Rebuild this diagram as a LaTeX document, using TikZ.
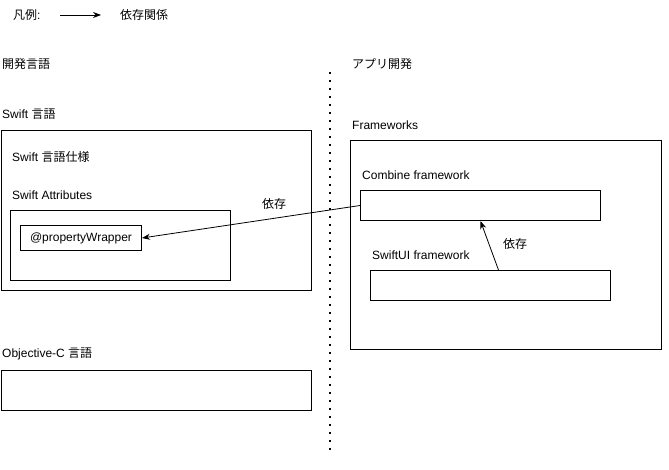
\documentclass[tikz,border=0pt]{standalone}
\usepackage{fontspec}
\setmainfont{Liberation Sans}
\newfontfamily\jp{Noto Sans CJK JP}
\usetikzlibrary{arrows.meta}

\begin{document}
\begin{tikzpicture}[x=1pt,y=-1pt,
    box/.style={draw,line width=1pt,anchor=north west,inner sep=0pt},
    lbl/.style={anchor=west,inner sep=0pt,font=\fontsize{12}{14}\selectfont},
    dep/.style={-{Stealth[length=8pt,width=6pt]},line width=0.8pt}]
  \useasboundingbox (0,0) rectangle (669,469);
  \node[lbl] (leg) at (13,15) {{\jp 凡例}:};
  \coordinate (la) at (60,15);
  \coordinate (lb) at (101,15);
  \draw[dep] (la) -- (lb);
  \node[lbl] (legt) at (120,15) {\jp 依存関係};
  \coordinate (dt) at (330,72);
  \coordinate (db) at (330,452);
  \draw[line width=2pt,dash pattern=on 2pt off 6pt] (dt) -- (db);
  \node[lbl] (devl) at (2,64) {\jp 開発言語};
  \node[lbl] (appd) at (352,64) {\jp アプリ開発};
  \node[lbl] (swt) at (2,114) {Swift {\jp 言語}};
  \node[box,minimum width=310pt,minimum height=160pt] (swb) at (1,130) {};
  \node[lbl] (swspec) at (12,157) {Swift {\jp 言語仕様}};
  \node[lbl] (attrt) at (12,195) {Swift Attributes};
  \node[box,minimum width=220pt,minimum height=70pt] (attr) at (10,210) {};
  \node[box,minimum width=121pt,minimum height=25pt,font=\fontsize{12}{14}\selectfont] (pw) at (20,225) {@propertyWrapper};
  \node[lbl] (objt) at (2,354) {Objective-C {\jp 言語}};
  \node[box,minimum width=310pt,minimum height=40pt] (objb) at (1,370) {};
  \node[lbl] (fwt) at (352,125) {Frameworks};
  \node[box,minimum width=311pt,minimum height=209pt] (fw) at (350,140) {};
  \node[lbl] (cmbt) at (362,175) {Combine framework};
  \node[box,minimum width=240pt,minimum height=30pt] (cmb) at (360,190) {};
  \node[lbl] (suit) at (372,255) {SwiftUI framework};
  \node[box,minimum width=240pt,minimum height=30pt] (sui) at (370,270) {};
  \draw[dep] (cmb.west) -- (pw.east);
  \node[lbl] (dep1) at (262,204) {\jp 依存};
  \draw[dep] ([xshift=8pt]sui.north) -- (cmb.south);
  \node[lbl] (dep2) at (503,244) {\jp 依存};
\end{tikzpicture}
\end{document}
